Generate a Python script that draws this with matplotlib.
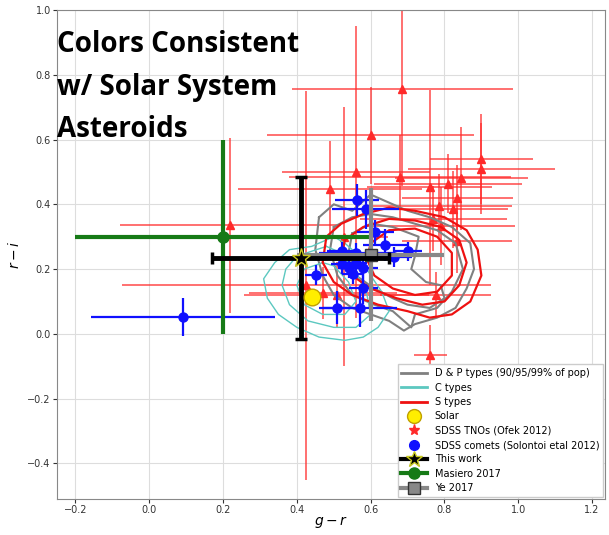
import matplotlib
matplotlib.use("Agg")
import matplotlib.pyplot as plt
import numpy as np

# ---------------- data ----------------
# contours (g-r, r-i) for D&P, C and S types (90/95/99% levels)
dp_outer_gr = [0.46, 0.50, 0.55, 0.60, 0.64, 0.70, 0.76, 0.82, 0.87, 0.88, 0.86, 0.83, 0.78, 0.72, 0.69, 0.65, 0.60, 0.55, 0.50, 0.47, 0.45, 0.46]
dp_outer_ri = [0.36, 0.40, 0.38, 0.43, 0.41, 0.38, 0.36, 0.33, 0.28, 0.20, 0.14, 0.08, 0.05, 0.03, 0.01, 0.04, 0.06, 0.08, 0.12, 0.18, 0.26, 0.36]
dp_mid_gr = [0.50, 0.55, 0.60, 0.66, 0.72, 0.78, 0.83, 0.85, 0.82, 0.78, 0.72, 0.71, 0.66, 0.61, 0.55, 0.51, 0.49, 0.50]
dp_mid_ri = [0.33, 0.36, 0.37, 0.36, 0.34, 0.32, 0.28, 0.20, 0.13, 0.08, 0.06, 0.02, 0.07, 0.09, 0.12, 0.18, 0.26, 0.33]
dp_inner_gr = [0.55, 0.60, 0.66, 0.73, 0.72, 0.71, 0.75, 0.79, 0.80, 0.76, 0.70, 0.66, 0.61, 0.56, 0.54, 0.55]
dp_inner_ri = [0.31, 0.34, 0.33, 0.30, 0.24, 0.20, 0.16, 0.15, 0.11, 0.08, 0.09, 0.11, 0.14, 0.18, 0.25, 0.31]

c_outer_gr = [0.50, 0.44, 0.38, 0.34, 0.31, 0.32, 0.35, 0.40, 0.46, 0.53, 0.58, 0.62, 0.65, 0.63, 0.60, 0.57, 0.53, 0.50]
c_outer_ri = [0.30, 0.27, 0.26, 0.22, 0.17, 0.11, 0.06, 0.02, -0.01, -0.02, -0.01, 0.02, 0.07, 0.13, 0.18, 0.24, 0.28, 0.30]
c_mid_gr = [0.48, 0.40, 0.37, 0.36, 0.38, 0.43, 0.50, 0.56, 0.60, 0.59, 0.56, 0.52, 0.48]
c_mid_ri = [0.27, 0.24, 0.20, 0.15, 0.09, 0.04, 0.02, 0.02, 0.06, 0.12, 0.19, 0.25, 0.27]
c_inner_gr = [0.47, 0.42, 0.40, 0.42, 0.47, 0.53, 0.56, 0.54, 0.50, 0.47]
c_inner_ri = [0.22, 0.20, 0.15, 0.09, 0.06, 0.06, 0.10, 0.16, 0.21, 0.22]

s_outer_gr = [0.48, 0.52, 0.58, 0.65, 0.72, 0.80, 0.86, 0.89, 0.90, 0.87, 0.82, 0.76, 0.70, 0.62, 0.55, 0.50, 0.47, 0.48]
s_outer_ri = [0.30, 0.34, 0.37, 0.39, 0.38, 0.36, 0.32, 0.26, 0.18, 0.10, 0.06, 0.05, 0.07, 0.09, 0.12, 0.16, 0.22, 0.30]
s_mid_gr = [0.53, 0.58, 0.65, 0.72, 0.79, 0.84, 0.86, 0.84, 0.80, 0.74, 0.67, 0.60, 0.55, 0.52, 0.53]
s_mid_ri = [0.29, 0.33, 0.355, 0.35, 0.33, 0.29, 0.22, 0.15, 0.10, 0.09, 0.11, 0.14, 0.18, 0.23, 0.29]
s_inner_gr = [0.60, 0.65, 0.72, 0.78, 0.82, 0.82, 0.78, 0.72, 0.66, 0.61, 0.59, 0.60]
s_inner_ri = [0.28, 0.32, 0.325, 0.30, 0.25, 0.18, 0.13, 0.12, 0.14, 0.18, 0.23, 0.28]

# SDSS TNOs (Ofek 2012)
tno_gr   = [0.686, 0.76, 0.90, 0.90, 0.68, 0.81, 0.845, 0.835, 0.823, 0.784, 0.77, 0.79, 0.834, 0.49, 0.22, 0.425, 0.762, 0.776, 0.508, 0.47, 0.56, 0.60, 0.527]
tno_ri   = [0.755, 0.452, 0.54, 0.51, 0.485, 0.464, 0.48, 0.42, 0.384, 0.394, 0.355, 0.333, 0.288, 0.446, 0.335, 0.15, -0.064, 0.12, 0.121, 0.125, 0.50, 0.613, 0.30]
tno_gre  = [0.30, 0.17, 0.14, 0.20, 0.30, 0.20, 0.18, 0.15, 0.15, 0.20, 0.20, 0.20, 0.15, 0.25, 0.30, 0.50, 0.045, 0.15, 0.25, 0.20, 0.20, 0.28, 0.12]
tno_rie  = [0.30, 0.30, 0.14, 0.14, 0.13, 0.09, 0.16, 0.10, 0.12, 0.10, 0.10, 0.12, 0.10, 0.15, 0.27, 0.60, 0.09, 0.07, 0.10, 0.08, 0.45, 0.15, 0.40]

# SDSS comets (Solontoi et al. 2012)
com_gr  = [0.091, 0.562, 0.586, 0.612, 0.640, 0.522, 0.561, 0.663, 0.700, 0.522, 0.541, 0.561, 0.580, 0.552, 0.451, 0.580, 0.510, 0.571]
com_ri  = [0.052, 0.414, 0.384, 0.313, 0.275, 0.255, 0.249, 0.237, 0.255, 0.215, 0.202, 0.220, 0.204, 0.184, 0.182, 0.141, 0.081, 0.081]
com_gre = [0.25, 0.06, 0.09, 0.05, 0.06, 0.04, 0.10, 0.05, 0.04, 0.03, 0.03, 0.03, 0.04, 0.03, 0.03, 0.04, 0.05, 0.10]
com_rie = [0.06, 0.05, 0.06, 0.04, 0.05, 0.03, 0.03, 0.03, 0.03, 0.03, 0.03, 0.03, 0.04, 0.03, 0.03, 0.05, 0.05, 0.06]

solar = (0.44, 0.115)
this_work = (0.41, 0.235, 0.24, 0.25)
masiero = (0.20, 0.30, 0.40, 0.30)
ye = (0.60, 0.245, 0.20, 0.205)

xticks = [-0.2, 0.0, 0.2, 0.4, 0.6, 0.8, 1.0, 1.2]
yticks = [-0.4, -0.2, 0.0, 0.2, 0.4, 0.6, 0.8, 1.0]

# ---------------- plot ----------------
fig = plt.figure(figsize=(6.09, 5.35), dpi=100)
ax = fig.add_axes([57/609, 36/535, 548/609, 489/535])

ax.grid(True, color='#dddddd', lw=0.8)
ax.set_axisbelow(True)

# TNOs
ax.errorbar(tno_gr, tno_ri, xerr=tno_gre, yerr=tno_rie, fmt='none', ecolor='#ff2a2a',
            elinewidth=1.1, alpha=0.85, zorder=2)
ax.plot(tno_gr, tno_ri, ls='none', marker='^', color='#ff2a2a', ms=6, zorder=2.1)

# contours
for gx, gy in [(dp_outer_gr, dp_outer_ri), (dp_mid_gr, dp_mid_ri), (dp_inner_gr, dp_inner_ri)]:
    ax.plot(gx, gy, color='#808080', lw=1.5, zorder=3)
for gx, gy in [(c_outer_gr, c_outer_ri), (c_mid_gr, c_mid_ri), (c_inner_gr, c_inner_ri)]:
    ax.plot(gx, gy, color='#5cc8c0', lw=1.0, zorder=3)
for gx, gy in [(s_outer_gr, s_outer_ri), (s_mid_gr, s_mid_ri), (s_inner_gr, s_inner_ri)]:
    ax.plot(gx, gy, color='#ee1111', lw=1.6, zorder=3)

# comets
ax.errorbar(com_gr, com_ri, xerr=com_gre, yerr=com_rie, fmt='o', color='#1010ff',
            ms=6.5, elinewidth=1.6, zorder=4)

# Masiero
ax.errorbar([masiero[0]], [masiero[1]], xerr=[masiero[2]], yerr=[masiero[3]], fmt='o',
            color='#167a16', ms=8, elinewidth=3, zorder=5)
# Ye
ax.errorbar([ye[0]], [ye[1]], xerr=[ye[2]], yerr=[ye[3]], fmt='s', color='#888888',
            mec='#333333', ms=8, elinewidth=3, zorder=5)
# This work
ax.errorbar([this_work[0]], [this_work[1]], xerr=[this_work[2]], yerr=[this_work[3]], fmt='*',
            color='black', mec='#c8c820', ms=14, elinewidth=3.5, capsize=4, capthick=2.5, zorder=6)
# Solar
ax.plot([solar[0]], [solar[1]], ls='none', marker='o', color='#ffee00', mec='#c0a000', ms=12, zorder=7)

ax.set_xlim(-0.25, 1.235)
ax.set_ylim(-0.51, 1.0)
ax.set_xticks(xticks)
ax.set_yticks(yticks)
ax.tick_params(labelsize=7, colors='#333333', length=3, pad=1.5)
for sp in ax.spines.values():
    sp.set_color('#888888')
ax.set_xlabel('$g-r$', fontsize=10, labelpad=-1)
ax.set_ylabel('$r-i$', fontsize=10, labelpad=4)

from matplotlib.lines import Line2D
h = [
    Line2D([], [], color='#808080', lw=2),
    Line2D([], [], color='#5cc8c0', lw=2),
    Line2D([], [], color='#ee1111', lw=2),
    Line2D([], [], ls='none', marker='o', color='#ffee00', mec='#c0a000', ms=10),
    Line2D([], [], ls='none', marker='*', color='#ff2a2a', ms=8),
    Line2D([], [], ls='none', marker='o', color='#1010ff', ms=7),
    Line2D([], [], color='black', lw=3, marker='*', mec='#c8c820', ms=12),
    Line2D([], [], color='#167a16', lw=3, marker='o', ms=8),
    Line2D([], [], color='#888888', lw=3, marker='s', mec='#333333', ms=8),
]
labels = ['D & P types (90/95/99% of pop)', 'C types', 'S types', 'Solar',
          'SDSS TNOs (Ofek 2012)', 'SDSS comets (Solontoi etal 2012)', 'This work',
          'Masiero 2017', 'Ye 2017']
leg = ax.legend(h, labels, loc='lower right', fontsize=7, labelspacing=0.45,
                handlelength=2.6, borderaxespad=0.2, framealpha=1, fancybox=False,
                edgecolor='#cccccc')
leg.set_zorder(10)

fig.text(57/609, 1 - 30/535, 'Colors Consistent\nw/ Solar System\nAsteroids',
         fontsize=20, fontweight='bold', family='Open Sans', va='top', ha='left',
         linespacing=1.62, color='black')

fig.savefig('out.png', dpi=100, facecolor='white')
